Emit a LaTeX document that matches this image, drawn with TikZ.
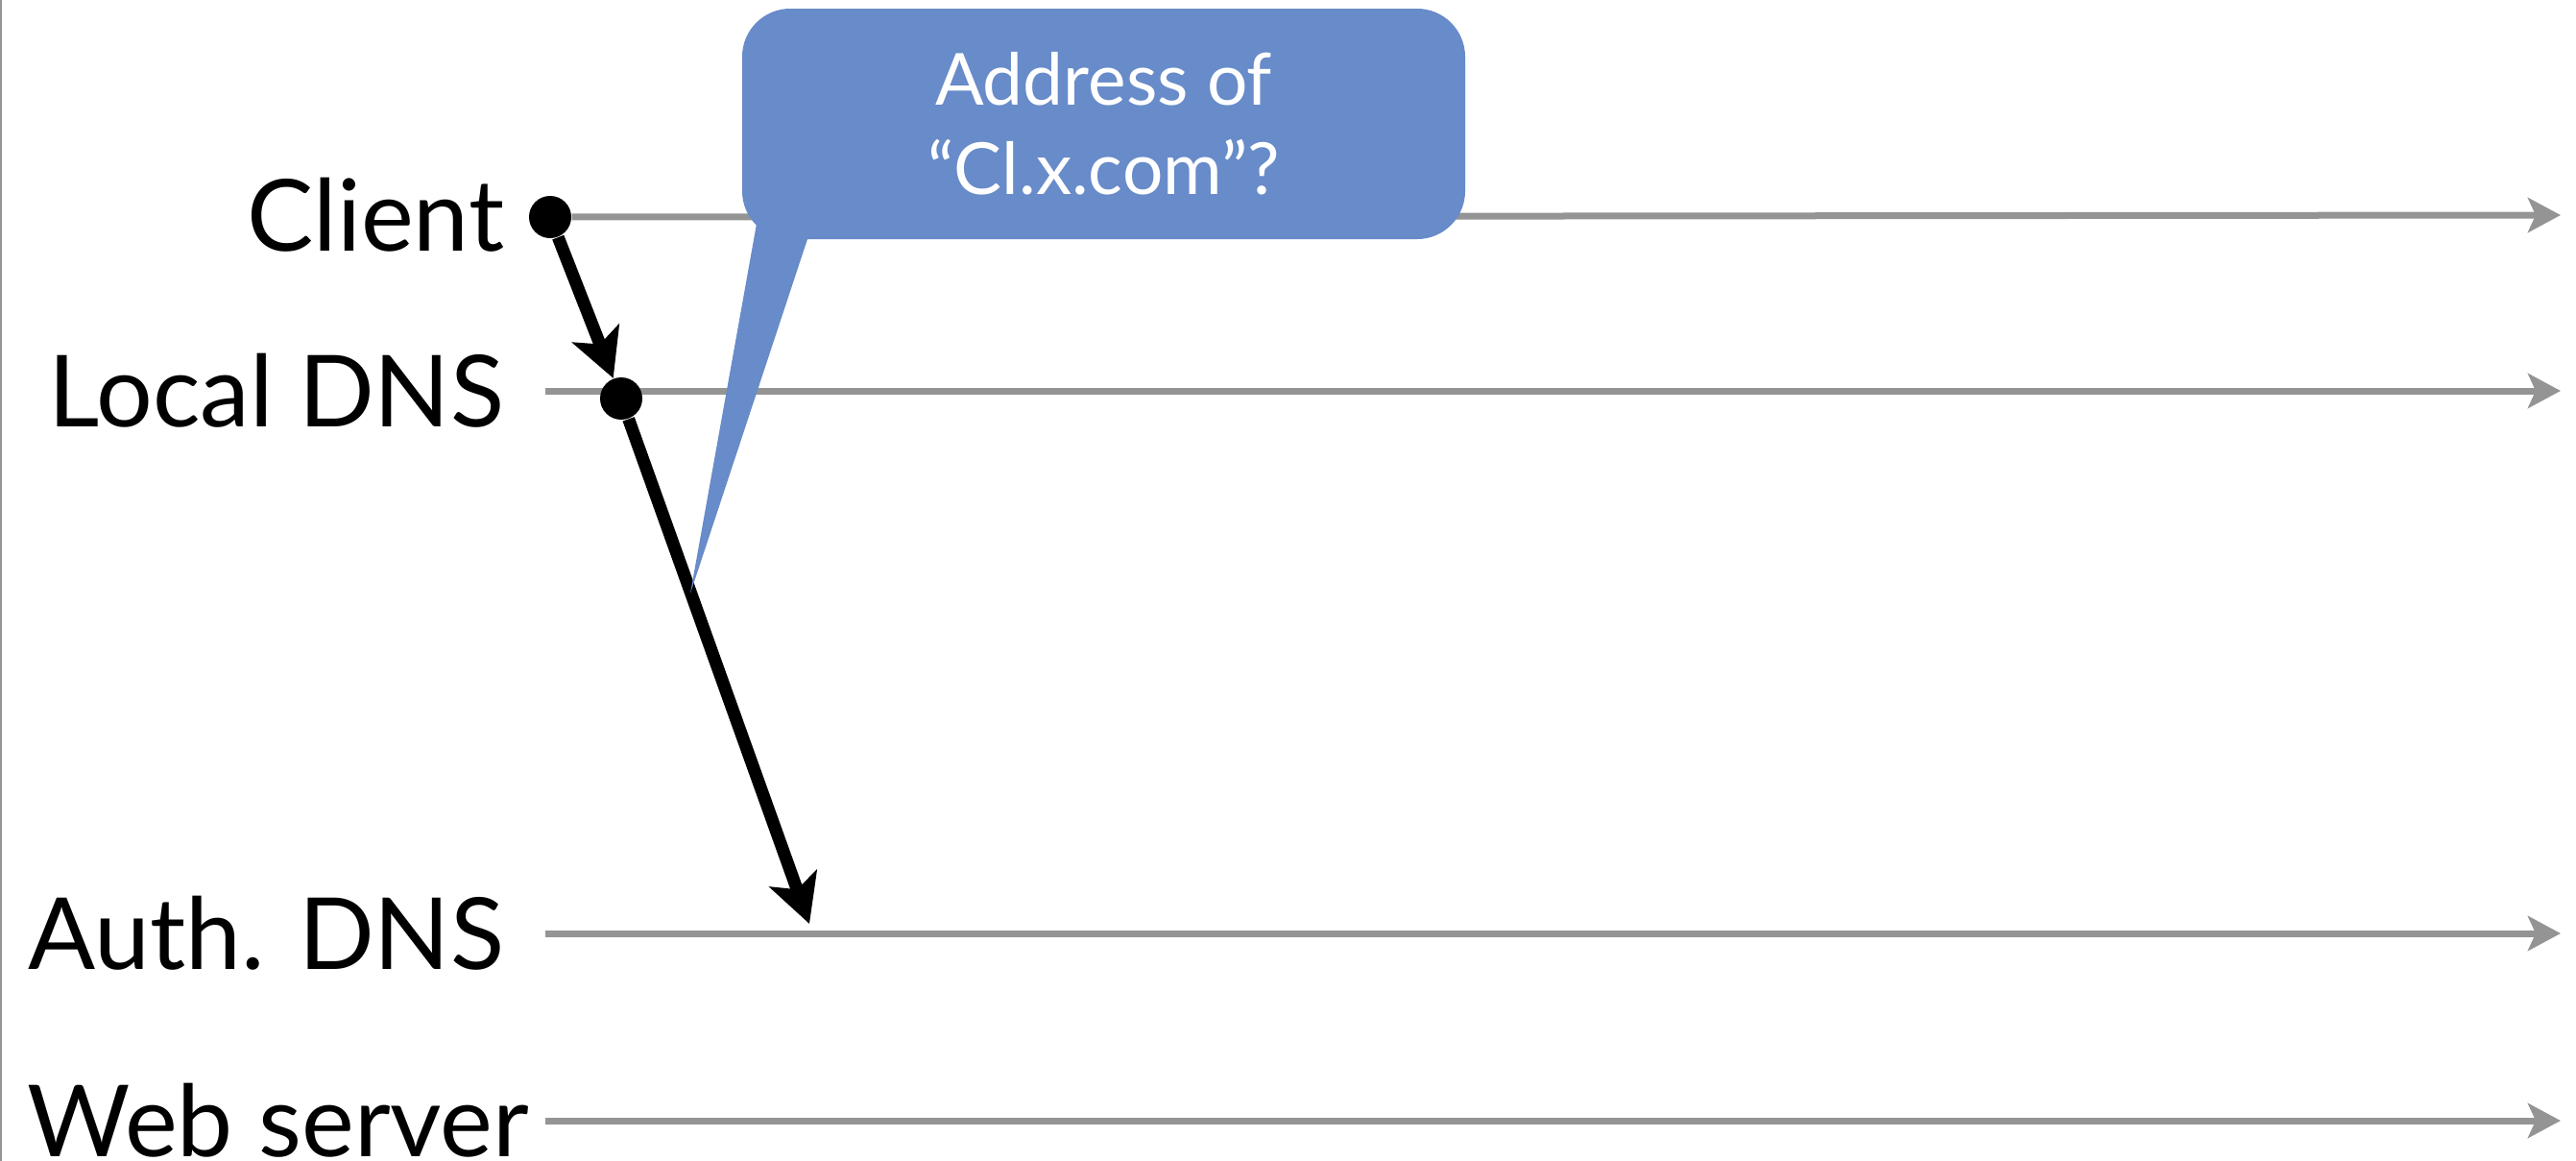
\documentclass[tikz,border=0pt]{standalone}
\usepackage{fontspec}
\setmainfont{Lato}
\usetikzlibrary{arrows.meta,positioning}
\definecolor{lanegray}{RGB}{148,148,148}
\definecolor{bubbleblue}{RGB}{104,139,201}

\begin{document}
\begin{tikzpicture}[
  lane/.style={draw=lanegray,line width=0.07cm,-{Stealth[length=0.34cm,width=0.36cm,inset=0.08cm]}},
  msg/.style={draw=black,line width=0.13cm,-{Stealth[length=0.5cm,width=0.52cm,inset=0.12cm]}},
  who/.style={anchor=east,inner xsep=0.42cm,inner ysep=0pt,text height=0.745cm,text depth=0pt,
    font=\fontsize{29.5}{35}\selectfont},
  hostdot/.style={circle,fill=black,inner sep=0pt,minimum size=0.44cm},
  bubble/.style={fill=bubbleblue,rounded corners=0.5cm,text=white,align=center,inner sep=0pt,
    font=\fontsize{21.3}{26.5}\selectfont}]
  \useasboundingbox (0,0) rectangle (26.83,-12.09);
  \draw[lanegray,line width=0.02cm] (0.01,0) -- (0.01,-12.09);
% hosts
  \node[who] (client) at (5.68,-2.24) {Client};
  \node[who] (local) at (5.68,-4.07) {Local DNS};
  \node[who] (auth) at (5.68,-9.72) {Auth. DNS};
  \node[who,inner xsep=0.16cm] (web) at (5.68,-11.67) {Web server};
  \coordinate (client end) at (26.67,-2.24);
  \coordinate (local end) at (26.67,-4.07);
  \coordinate (auth end) at (26.67,-9.72);
  \coordinate (web end) at (26.67,-11.67);
% time lines
  \node[hostdot] (cdot) at (5.73,-2.26) {};
  \draw[lane] (cdot) -- (client end);
  \draw[lane] (local.east) -- (local end);
  \draw[lane] (auth.east) -- (auth end);
  \draw[lane] (web.east) -- (web end);
  \node[hostdot] (ldot) at (6.47,-4.15) {};
% query
  \coordinate (ask) at (8.43,-9.62);
  \draw[msg] (cdot) -- (ldot);
  \draw[msg] (ldot) -- (ask);
% speech bubble
  \coordinate (tailtip) at (7.19,-6.18);
  \fill[bubbleblue] (7.88,-2.33) -- (tailtip) -- (8.41,-2.49) -- (8.41,-2.2) -- cycle;
  \node[bubble,minimum width=7.53cm,minimum height=2.40cm] (q) at (11.495,-1.29)
    {Address of\\“Cl.x.com”?};
\end{tikzpicture}
\end{document}
